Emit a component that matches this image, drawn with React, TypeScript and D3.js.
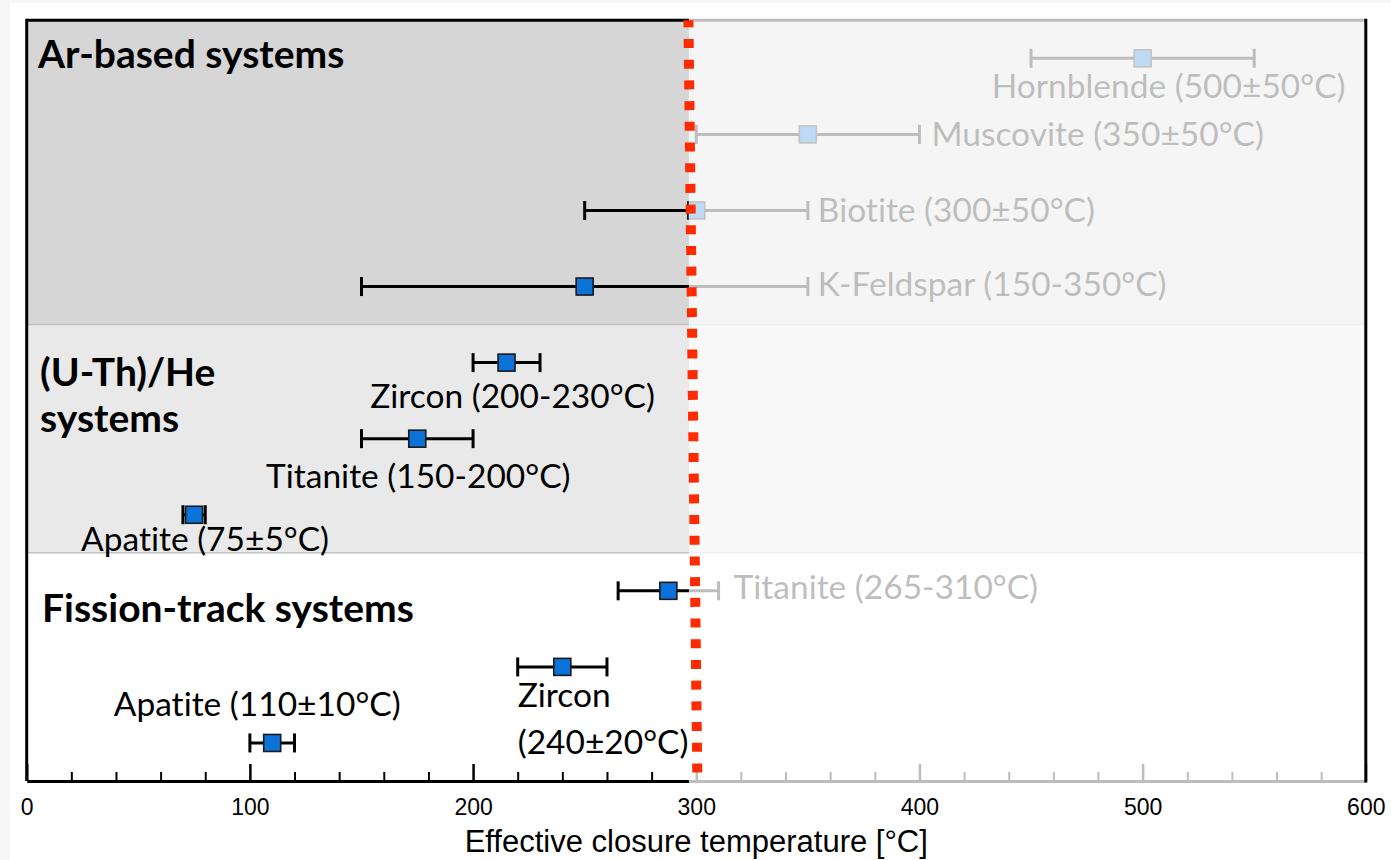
import * as d3 from "d3";
import { useEffect, useRef } from "react";

const WIDTH = 1391;
const HEIGHT = 860;

// dating-system groups, top to bottom
const groupTitles = [["Ar-based systems"], ["(U-Th)/He", "systems"], ["Fission-track systems"]];
const groupOfRow = [0, 0, 0, 0, 1, 1, 1, 2, 2, 2];

// one row per mineral
const minerals = ["Hornblende", "Muscovite", "Biotite", "K-Feldspar", "Zircon", "Titanite", "Apatite", "Titanite", "Zircon", "Apatite"];
const centerTemp = [500, 350, 300, 250, 215, 175, 75, 287.5, 240, 110];
const lowTemp = [450, 300, 250, 150, 200, 150, 70, 265, 220, 100];
const highTemp = [550, 400, 350, 350, 230, 200, 80, 310, 260, 120];
const rangeText = ["(500±50°C)", "(350±50°C)", "(300±50°C)", "(150-350°C)", "(200-230°C)", "(150-200°C)", "(75±5°C)", "(265-310°C)", "(240±20°C)", "(110±10°C)"];

const majorTicks = [0, 100, 200, 300, 400, 500, 600];
const minorTicks = [20, 40, 60, 80, 120, 140, 160, 180, 220, 240, 260, 280, 320, 340, 360, 380, 420, 440, 460, 480, 520, 540, 560, 580];

// red dotted line, temperature at top and at bottom of the plot
const limitTemp = [296.5, 300.5];
const fadeFrom = 296.7;
const xTitle = "Effective closure temperature [°C]";

// label placement (layout only)
const labelLayout = [
  { ref: "c", dx: 26, dy: 40, anchor: "middle", wrap: false },
  { ref: "h", dx: 12, dy: 12, anchor: "start", wrap: false },
  { ref: "h", dx: 10, dy: 12, anchor: "start", wrap: false },
  { ref: "h", dx: 10, dy: 9, anchor: "start", wrap: false },
  { ref: "c", dx: 6, dy: 45, anchor: "middle", wrap: false },
  { ref: "c", dx: 1, dy: 49, anchor: "middle", wrap: false },
  { ref: "c", dx: 11, dy: 36, anchor: "middle", wrap: false },
  { ref: "h", dx: 15, dy: 8, anchor: "start", wrap: false },
  { ref: "l", dx: 0, dy: 40, anchor: "start", wrap: true },
  { ref: "c", dx: -15, dy: -27, anchor: "middle", wrap: false },
];
const titleLayout = [
  { x: 38, dy: 48 },
  { x: 40, dy: 61.5 },
  { x: 42, dy: 69 },
];
const groupFill = ["#d6d6d6", "#e9e9e9", "#ffffff"];

export default function App() {
  const svgRef = useRef<SVGSVGElement | null>(null);

  useEffect(() => {
    if (!svgRef.current) return;
    const svg = d3.select(svgRef.current);
    svg.selectAll("*").remove();

    const left = 26.7;
    const right = 1365.8;
    const top = 20.3;
    const bottom = 781;

    const x = d3.scaleLinear().domain([0, 600]).range([left, right]);
    const rows = d3.range(minerals.length);
    const y = d3.scaleBand<number>().domain(rows).range([top, bottom]).padding(0);
    const bw = y.bandwidth();
    const cy = (i: number) => (y(i) as number) + bw / 2;

    svg.append("rect").attr("x", 0).attr("y", 0).attr("width", 10).attr("height", HEIGHT).attr("fill", "#f6f6f6");
    svg.append("rect").attr("x", 0).attr("y", 0).attr("width", WIDTH).attr("height", 3).attr("fill", "#f6f6f6");

    // group backgrounds
    const groupRows = groupTitles.map((_, g) => rows.filter((r) => groupOfRow[r] === g));
    groupRows.forEach((gr, g) => {
      const y0 = y(gr[0]) as number;
      const y1 = (y(gr[gr.length - 1]) as number) + bw;
      svg.append("rect").attr("x", left).attr("y", y0).attr("width", right - left).attr("height", y1 - y0).attr("fill", groupFill[g]);
      if (g > 0) {
        svg.append("line").attr("x1", left).attr("x2", right).attr("y1", y0).attr("y2", y0).attr("stroke", "#c2c2c2").attr("stroke-width", 1.5);
      }
      groupTitles[g].forEach((line, k) => {
        svg
          .append("text")
          .attr("x", titleLayout[g].x)
          .attr("y", y0 + titleLayout[g].dy + k * 46)
          .attr("font-family", "Lato, sans-serif")
          .attr("font-weight", 700)
          .attr("font-size", 39)
          .style("font-variant-ligatures", "none")
          .attr("fill", "#000")
          .text(line);
      });
    });

    // frame: top and left
    svg.append("line").attr("x1", left).attr("x2", right).attr("y1", top).attr("y2", top).attr("stroke", "#000").attr("stroke-width", 3);
    svg.append("line").attr("x1", left).attr("x2", left).attr("y1", top - 1.5).attr("y2", bottom).attr("stroke", "#000").attr("stroke-width", 3);

    // error bars
    const bars = svg.append("g").attr("stroke", "#000").attr("stroke-width", 3);
    bars
      .selectAll("line.bar")
      .data(rows)
      .join("line")
      .attr("class", "bar")
      .attr("x1", (i) => x(lowTemp[i]))
      .attr("x2", (i) => x(highTemp[i]))
      .attr("y1", cy)
      .attr("y2", cy);
    bars
      .selectAll("line.lo")
      .data(rows)
      .join("line")
      .attr("class", "lo")
      .attr("x1", (i) => x(lowTemp[i]))
      .attr("x2", (i) => x(lowTemp[i]))
      .attr("y1", (i) => cy(i) - 9.5)
      .attr("y2", (i) => cy(i) + 9.5);
    bars
      .selectAll("line.hi")
      .data(rows)
      .join("line")
      .attr("class", "hi")
      .attr("x1", (i) => x(highTemp[i]))
      .attr("x2", (i) => x(highTemp[i]))
      .attr("y1", (i) => cy(i) - 9.5)
      .attr("y2", (i) => cy(i) + 9.5);

    // boxes
    const box = 17;
    svg
      .append("g")
      .selectAll("rect")
      .data(rows)
      .join("rect")
      .attr("x", (i) => x(centerTemp[i]) - box / 2)
      .attr("y", (i) => cy(i) - box / 2)
      .attr("width", box)
      .attr("height", box)
      .attr("fill", "#0a72d8")
      .attr("stroke", "#1a1a1a")
      .attr("stroke-width", 1.6);

    // labels
    const labels = svg
      .append("g")
      .attr("font-family", "Lato, sans-serif")
      .attr("font-size", 33.5)
      .attr("fill", "#000")
      .style("font-variant-ligatures", "none");
    rows.forEach((i) => {
      const lay = labelLayout[i];
      const refX = lay.ref === "c" ? centerTemp[i] : lay.ref === "h" ? highTemp[i] : lowTemp[i];
      const lines = lay.wrap ? [minerals[i], rangeText[i]] : [`${minerals[i]} ${rangeText[i]}`];
      lines.forEach((t, k) => {
        labels
          .append("text")
          .attr("x", x(refX) + lay.dx)
          .attr("y", cy(i) + lay.dy + k * 47)
          .attr("text-anchor", lay.anchor)
          .text(t);
      });
    });

    // x axis
    const axisG = svg.append("g").attr("transform", `translate(0,${bottom})`);
    axisG
      .append("g")
      .call(d3.axisBottom(x).tickValues(minorTicks).tickSize(-9).tickSizeOuter(0).tickFormat(() => ""))
      .call((g) => g.select(".domain").remove())
      .call((g) => g.selectAll(".tick line").attr("stroke", "#000").attr("stroke-width", 2));
    const major = axisG
      .append("g")
      .call(d3.axisBottom(x).tickValues(majorTicks).tickSize(-17).tickSizeOuter(0).tickPadding(17.5).tickFormat(d3.format("d")));
    major.select(".domain").attr("stroke", "#000").attr("stroke-width", 3);
    major.selectAll(".tick line").attr("stroke", "#000").attr("stroke-width", 2.5);
    major
      .selectAll(".tick text")
      .attr("font-family", "'Liberation Sans', Arial, sans-serif")
      .attr("font-size", 23)
      .attr("fill", "#000");

    // fade everything above the limit
    svg
      .append("rect")
      .attr("x", x(fadeFrom))
      .attr("y", top - 3)
      .attr("width", right - x(fadeFrom) + 3)
      .attr("height", bottom - top + 5)
      .attr("fill", "#fff")
      .attr("fill-opacity", 0.74);

    // right frame
    svg.append("line").attr("x1", right).attr("x2", right).attr("y1", top - 1.5).attr("y2", bottom + 1.5).attr("stroke", "#000").attr("stroke-width", 3);

    // red dotted line
    svg
      .append("line")
      .attr("x1", x(limitTemp[0]))
      .attr("x2", x(limitTemp[1]))
      .attr("y1", top)
      .attr("y2", bottom)
      .attr("stroke", "#ff2a00")
      .attr("stroke-width", 10)
      .attr("stroke-dasharray", "9 11.7")
      .attr("stroke-dashoffset", 2);

    svg
      .append("text")
      .attr("x", (left + right) / 2)
      .attr("y", 852)
      .attr("text-anchor", "middle")
      .attr("font-family", "'Liberation Sans', Arial, sans-serif")
      .attr("font-size", 31)
      .attr("fill", "#000")
      .text(xTitle);
  }, []);

  return (
    <div style={{ position: "absolute", left: 0, top: 0, background: "#fff" }}>
      <svg ref={svgRef} width={WIDTH} height={HEIGHT} style={{ display: "block" }} />
    </div>
  );
}
